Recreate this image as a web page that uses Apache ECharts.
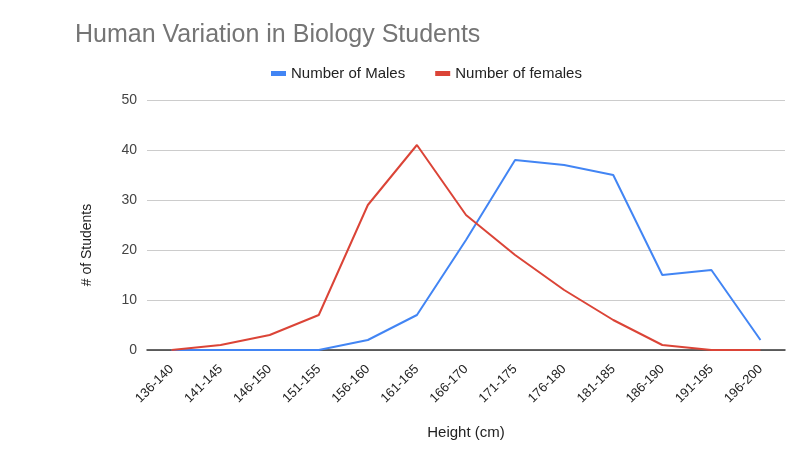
<!DOCTYPE html>
<html><head><meta charset="utf-8">
<script src="https://cdn.jsdelivr.net/npm/echarts@6/dist/echarts.min.js"></script>
<style>html,body{margin:0;padding:0;background:#fff}#c{width:800px;height:461px}</style>
</head><body><div id="c"></div>
<script>
const categories = ['136-140','141-145','146-150','151-155','156-160','161-165','166-170','171-175','176-180','181-185','186-190','191-195','196-200'];
const males = [0,0,0,0,2,7,22,38,37,35,15,16,2];
const females = [0,1,3,7,29,41,27,19,12,6,1,0,0];
const yTicks = [0,10,20,30,40,50];

const FF = '"Liberation Sans", Arial, sans-serif';
const chart = echarts.init(document.getElementById('c'));
chart.setOption({
  animation:false,
  backgroundColor:'#fff',
  textStyle:{fontFamily:FF},
  title:{text:'Human Variation in Biology Students',left:70,top:18,
    textStyle:{fontSize:25,fontWeight:'normal',color:'#757575',fontFamily:FF}},
  legend:{top:61,left:266,itemWidth:15,itemHeight:5,itemGap:30,icon:'rect',
    textStyle:{fontSize:15,color:'#222',fontFamily:FF},
    data:['Number of Males','Number of females']},
  grid:{left:147,right:15,top:100,bottom:111},
  xAxis:{type:'category',data:categories,boundaryGap:true,
    name:'Height (cm)',nameLocation:'middle',nameGap:75,
    nameTextStyle:{fontSize:15,color:'#222',fontFamily:FF},
    axisLine:{lineStyle:{color:'#333',width:1.5}},axisTick:{show:false},
    axisLabel:{rotate:45,fontSize:13,color:'#222',margin:17,interval:0,fontFamily:FF}},
  yAxis:{type:'value',min:yTicks[0],max:yTicks[yTicks.length-1],interval:10,
    name:'# of Students',nameLocation:'middle',nameGap:53,
    nameTextStyle:{fontSize:14,color:'#222',fontFamily:FF,padding:[0,40,0,0]},
    axisLine:{show:false},axisTick:{show:false},
    axisLabel:{fontSize:14,color:'#444',margin:10,fontFamily:FF},
    splitLine:{lineStyle:{color:'#ccc'}}},
  series:[
    {name:'Number of Males',type:'line',data:males,showSymbol:false,
      color:'#4285F4',lineStyle:{width:2,color:'#4285F4'}},
    {name:'Number of females',type:'line',data:females,showSymbol:false,
      color:'#DB4437',lineStyle:{width:2,color:'#DB4437'}}
  ]
});
</script></body></html>
